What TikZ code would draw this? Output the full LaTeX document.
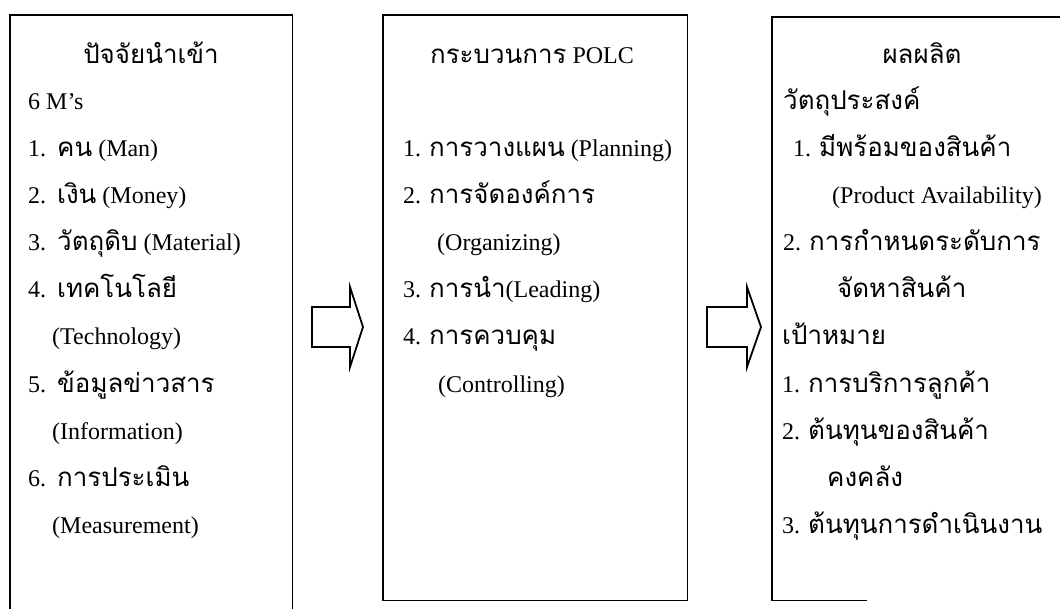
\documentclass[tikz,border=0pt]{standalone}
\usepackage{fontspec}
\setmainfont{Liberation Serif}
\newfontfamily\thaifont[Script=Thai,Scale=1.08]{Loma}
\newcommand{\tth}[1]{{\thaifont #1}}
\newcommand{\numgap}{\hspace{11pt}}
\usetikzlibrary{calc}

\tikzset{
  panel/.style={line width=1.8pt, line join=miter, line cap=rect},
  panelarea/.style={draw=none, rectangle, inner sep=0pt, anchor=north west},
  item/.style={anchor=base west, inner sep=0pt, font=\fontsize{24}{28}\selectfont},
  heading/.style={anchor=base, inner sep=0pt, font=\fontsize{24}{28}\selectfont},
  blockarrow/.style={line width=1.8pt, line join=miter}
}

\begin{document}
\begin{tikzpicture}[x=1pt, y=-1pt]
\useasboundingbox (0,0) rectangle (1060,609);
\clip (0,0) rectangle (1060,609);

% the three panels: inputs, POLC process, outputs
\node[panelarea, minimum width=282pt, minimum height=640pt] (inputs) at (10,15) {};
\node[panelarea, minimum width=304pt, minimum height=585pt] (process) at (383,15) {};
\node[panelarea, minimum width=330pt, minimum height=583pt] (outputs) at (772,17) {};

\draw[panel] (inputs.south west) -- (inputs.north west) -- (inputs.north east) -- (inputs.south east);
\draw[panel] (process.north west) rectangle (process.south east);
\draw[panel] (outputs.north east) -- (outputs.north west) -- (outputs.south west) -- ($(outputs.south west)+(94,0)$);

% block arrows between the panels
\coordinate (a1) at (312,327);
\coordinate (a2) at (707,327);
\draw[blockarrow] (a1) ++(0,-20) -- ++(38,0) -- ++(0,-20) -- ++(13,40) -- ++(-13,40) -- ++(0,-20) -- ++(-38,0) -- cycle;
\draw[blockarrow] (a2) ++(0,-20) -- ++(40,0) -- ++(0,-20) -- ++(14,40) -- ++(-14,40) -- ++(0,-20) -- ++(-40,0) -- cycle;

% inputs
\node[heading] (in0) at (151,64) {\tth{ปัจจัยนำเข้า}};
\node[item] (in1) at (28,110) {6 M’s};
\node[item] (in2) at (28,157) {1.\numgap\tth{คน} (Man)};
\node[item] (in3) at (28,204) {2.\numgap\tth{เงิน} (Money)};
\node[item] (in4) at (28,251) {3.\numgap\tth{วัตถุดิบ} (Material)};
\node[item] (in5) at (28,298) {4.\numgap\tth{เทคโนโลยี}};
\node[item] (in6) at (52,345) {(Technology)};
\node[item] (in7) at (28,392) {5.\numgap\tth{ข้อมูลข่าวสาร}};
\node[item] (in8) at (52,439) {(Information)};
\node[item] (in9) at (28,486) {6.\numgap\tth{การประเมิน}};
\node[item] (in10) at (52,533) {(Measurement)};

% process
\node[heading] (pr0) at (532,64) {\tth{กระบวนการ} POLC};
\node[item] (pr2) at (403,157) {1. \tth{การวางแผน} (Planning)};
\node[item] (pr3) at (403,204) {2. \tth{การจัดองค์การ}};
\node[item] (pr4) at (437,251) {(Organizing)};
\node[item] (pr5) at (403,298) {3. \tth{การนำ}(Leading)};
\node[item] (pr6) at (403,345) {4. \tth{การควบคุม}};
\node[item] (pr7) at (438,392) {(Controlling)};

% outputs
\node[heading] (out0) at (922,64) {\tth{ผลผลิต}};
\node[item] (out1) at (783,110) {\tth{วัตถุประสงค์}};
\node[item] (out2) at (793,157) {1. \tth{มีพร้อมของสินค้า}};
\node[item] (out3) at (832,204) {(Product Availability)};
\node[item] (out4) at (783,251) {2. \tth{การกำหนดระดับการ}};
\node[item] (out5) at (837,298) {\tth{จัดหาสินค้า}};
\node[item] (out6) at (782,345) {\tth{เป้าหมาย}};
\node[item] (out7) at (782,392) {1. \tth{การบริการลูกค้า}};
\node[item] (out8) at (782,439) {2. \tth{ต้นทุนของสินค้า}};
\node[item] (out9) at (827,486) {\tth{คงคลัง}};
\node[item] (out10) at (782,533) {3. \tth{ต้นทุนการดำเนินงาน}};
\end{tikzpicture}
\end{document}
